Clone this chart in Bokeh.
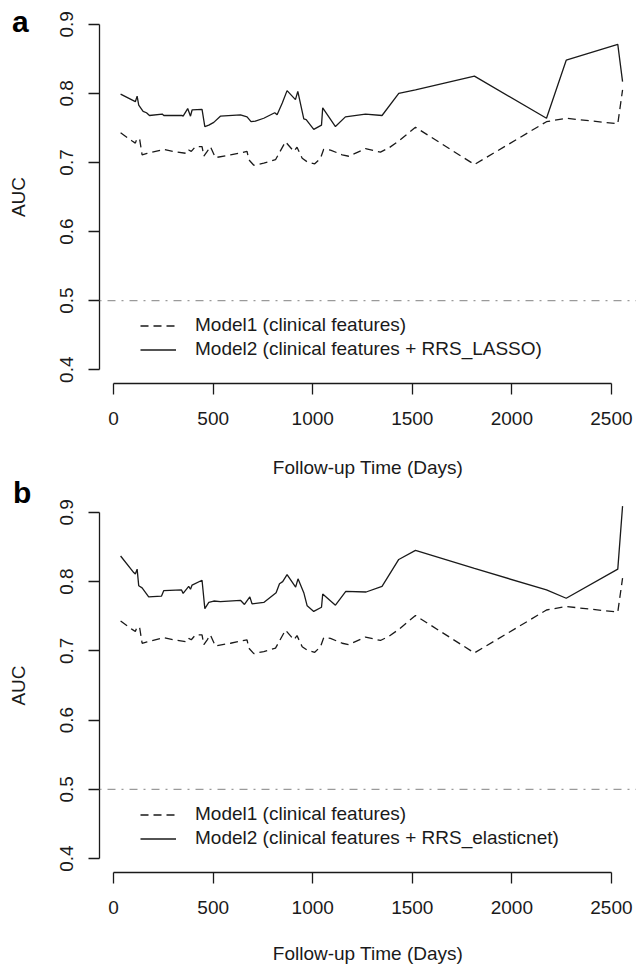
from bokeh.plotting import figure
from bokeh.models import Range1d, FixedTicker, Span, Legend, LegendItem, Div
from bokeh.layouts import column
from bokeh.embed import file_html
from bokeh.resources import INLINE

# ---- data ----
m1_days = [35, 93, 109, 118, 131, 143, 168, 252, 300, 369, 377, 390, 411, 444, 453, 470, 486,
           511, 587, 670, 679, 704, 754, 779, 813, 863, 905, 921, 947, 972, 1010, 1039, 1055,
           1089, 1148, 1181, 1265, 1340, 1382, 1432, 1516, 1812, 2174, 2273, 2532, 2556]
m1_auc = [0.743, 0.731, 0.728, 0.735, 0.733, 0.711, 0.713, 0.719, 0.716, 0.713, 0.718, 0.716,
          0.723, 0.723, 0.709, 0.716, 0.723, 0.707, 0.711, 0.716, 0.704, 0.696, 0.699, 0.701,
          0.704, 0.730, 0.716, 0.722, 0.706, 0.701, 0.698, 0.706, 0.719, 0.718, 0.711, 0.709,
          0.720, 0.715, 0.721, 0.731, 0.751, 0.697, 0.759, 0.764, 0.756, 0.805]

m2_lasso_days = [35, 109, 118, 126, 148, 165, 180, 244, 252, 344, 349, 372, 386, 394, 444, 458,
                 478, 503, 536, 637, 670, 690, 712, 754, 809, 821, 847, 871, 913, 925, 955, 967,
                 1005, 1044, 1050, 1114, 1164, 1265, 1348, 1432, 1516, 1812, 2174, 2273, 2532, 2556]
m2_lasso_auc = [0.799, 0.788, 0.796, 0.783, 0.774, 0.772, 0.768, 0.770, 0.768, 0.768, 0.767,
                0.778, 0.767, 0.776, 0.777, 0.752, 0.754, 0.758, 0.767, 0.769, 0.766, 0.759,
                0.760, 0.764, 0.772, 0.769, 0.786, 0.804, 0.791, 0.803, 0.763, 0.762, 0.748,
                0.754, 0.779, 0.752, 0.766, 0.770, 0.768, 0.800, 0.805, 0.825, 0.764, 0.848,
                0.871, 0.817]

m2_enet_days = [35, 101, 109, 118, 126, 143, 176, 240, 252, 341, 349, 377, 386, 394, 444, 458,
                478, 503, 536, 637, 657, 684, 695, 754, 816, 833, 849, 871, 914, 926, 955, 972,
                1005, 1044, 1050, 1114, 1166, 1268, 1348, 1432, 1516, 1812, 2174, 2273, 2532, 2556]
m2_enet_auc = [0.837, 0.813, 0.811, 0.818, 0.794, 0.791, 0.778, 0.779, 0.787, 0.788, 0.783,
               0.793, 0.789, 0.795, 0.802, 0.761, 0.770, 0.772, 0.771, 0.773, 0.767, 0.778,
               0.768, 0.770, 0.784, 0.797, 0.800, 0.810, 0.792, 0.804, 0.784, 0.765, 0.757,
               0.763, 0.782, 0.766, 0.786, 0.785, 0.793, 0.832, 0.845, 0.819, 0.788, 0.776,
               0.818, 0.909]

x_ticks = [0, 500, 1000, 1500, 2000, 2500]
y_ticks = [0.4, 0.5, 0.6, 0.7, 0.8, 0.9]
chance_auc = 0.5
label_m1 = "Model1 (clinical features)"
label_m2_lasso = "Model2 (clinical features + RRS_LASSO)"
label_m2_enet = "Model2 (clinical features + RRS_elasticnet)"
x_title = "Follow-up Time (Days)"
y_title = "AUC"
panel_tags = ["a", "b"]

FONT = "Liberation Sans"
FS = "19px"
INK = "#1a1a1a"


def make_panel(m2_days, m2_auc, m2_label, height, b_top, b_bottom, title_standoff):
    p = figure(width=636, height=height, output_backend="svg", toolbar_location=None,
               x_range=Range1d(-71, 2626), y_range=Range1d(0.38, 0.92),
               min_border_left=99, min_border_right=0, min_border_top=b_top,
               min_border_bottom=b_bottom, background_fill_color="white",
               border_fill_color=None)
    p.outline_line_color = None
    p.xgrid.visible = False
    p.ygrid.visible = False

    # axes in R style
    for ax in (p.xaxis[0], p.yaxis[0]):
        ax.axis_line_color = INK
        ax.axis_line_width = 1.3
        ax.major_tick_line_color = INK
        ax.major_tick_line_width = 1.3
        ax.major_tick_out = 11
        ax.major_tick_in = 0
        ax.minor_tick_line_color = None
        ax.major_label_text_font = FONT
        ax.major_label_text_font_size = FS
        ax.major_label_text_color = INK
        ax.axis_label_text_font = FONT
        ax.axis_label_text_font_size = FS
        ax.axis_label_text_font_style = "normal"
        ax.axis_label_text_color = INK
    p.xaxis[0].ticker = FixedTicker(ticks=x_ticks)
    p.xaxis[0].bounds = (x_ticks[0], x_ticks[-1])
    p.xaxis[0].major_label_standoff = 17
    p.xaxis[0].axis_label = x_title
    p.xaxis[0].axis_label_standoff = title_standoff
    p.yaxis[0].ticker = FixedTicker(ticks=y_ticks)
    p.yaxis[0].bounds = (y_ticks[0], y_ticks[-1])
    p.yaxis[0].major_label_orientation = "vertical"
    p.yaxis[0].major_label_standoff = 15
    p.yaxis[0].axis_label = y_title
    p.yaxis[0].axis_label_standoff = 29

    ref = Span(location=chance_auc, dimension="width", line_color="#9a9a9a",
               line_width=1.2, line_dash="2 6 8 6")
    p.add_layout(ref)

    r1 = p.line(m1_days, m1_auc, line_color=INK, line_width=1.3, line_dash="8 5")
    r2 = p.line(m2_days, m2_auc, line_color=INK, line_width=1.3)

    legend = Legend(items=[LegendItem(label=label_m1, renderers=[r1]),
                           LegendItem(label=m2_label, renderers=[r2])],
                    location=(41, 23), orientation="vertical",
                    background_fill_alpha=0, border_line_alpha=0,
                    padding=0, margin=0, spacing=2,
                    glyph_width=36, glyph_height=21, label_height=21,
                    label_standoff=19, label_text_font=FONT,
                    label_text_font_size=FS, label_text_color=INK)
    p.add_layout(legend)
    return p


def make_tag(text, margin):
    return Div(text=text, width=30, height=30, margin=margin,
               styles={"font-family": FONT, "font-size": "30px", "font-weight": "bold",
                       "line-height": "30px", "color": "black",
                       "position": "relative", "z-index": "5"})


pa = make_panel(m2_lasso_days, m2_lasso_auc, label_m2_lasso,
                height=480, b_top=10, b_bottom=95, title_standoff=29)
pb = make_panel(m2_enet_days, m2_enet_auc, label_m2_enet,
                height=486, b_top=18, b_bottom=91, title_standoff=26)

tag_a = make_tag(panel_tags[0], (7, 0, -37, 12))
tag_b = make_tag(panel_tags[1], (-2, 0, -28, 13))

layout = column(tag_a, pa, tag_b, pb, spacing=0)
open("out.html", "w").write(file_html(layout, INLINE))
